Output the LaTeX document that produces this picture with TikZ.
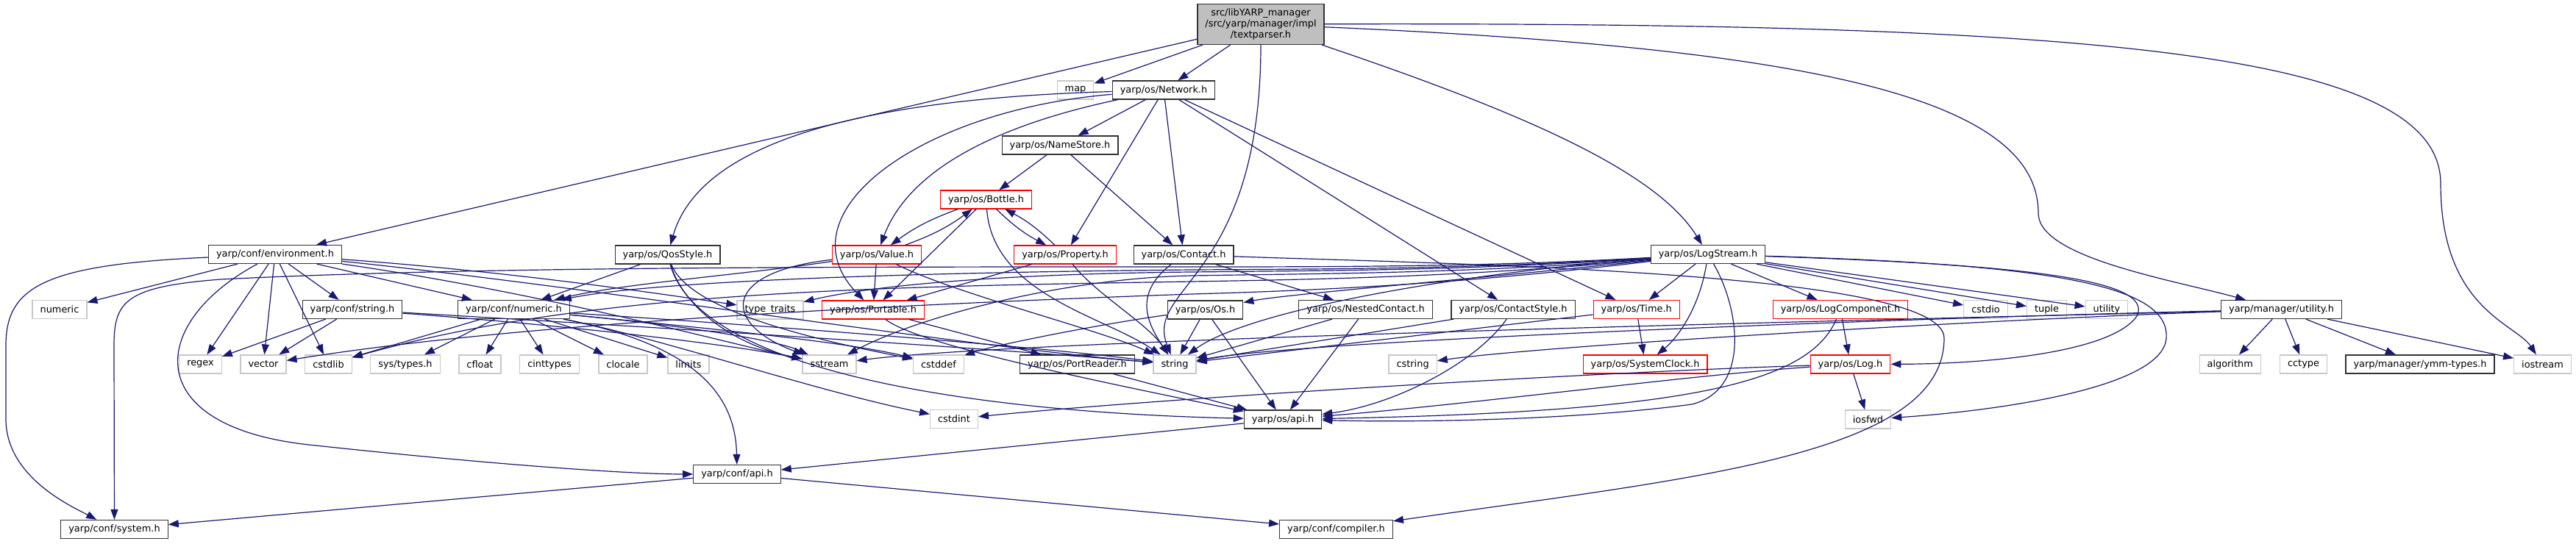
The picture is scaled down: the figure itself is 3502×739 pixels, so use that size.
\documentclass[tikz,border=0pt]{standalone}
\usepackage{fontspec}
\setsansfont{DejaVu Sans}
\usepackage{tikz}
\usetikzlibrary{arrows.meta}
\definecolor{edgeblue}{HTML}{191970}
\definecolor{rootgray}{HTML}{BFBFBF}
\definecolor{sysgray}{HTML}{C8C8C8}
\tikzset{every picture/.style={/utils/exec={\sffamily}}}
\tikzset{
  hdr/.style={draw=black!80, fill=white, line width=1.2pt, minimum height=25pt,
    inner xsep=10.5pt, inner ysep=0pt, font=\fontsize{12.9}{15}\selectfont},
  redhdr/.style={hdr, draw=red},
  syshdr/.style={hdr, draw=sysgray},
  inc/.style={draw=edgeblue, line width=1.2pt, -{Triangle[length=14pt,width=10pt]}},
}

\begin{document}
\begin{tikzpicture}[x=1pt, y=-1pt]
        \useasboundingbox (0,0) rectangle (3502,739);
        % Nodes
        \node[hdr, fill=rootgray, align=center, minimum height=55pt] (root) at (1714,33)
            {src/libYARP\_manager\\/src/yarp/manager/impl\\/textparser.h};
        \node[syshdr] (map) at (1462,122.5) {map};
        \node[hdr] (network) at (1582,122.5) {yarp/os/Network.h};
        \node[hdr] (namestore) at (1441,197.5) {yarp/os/NameStore.h};
        \node[redhdr] (bottle) at (1340.5,271.5) {yarp/os/Bottle.h};

        \node[hdr] (env) at (374,346) {yarp/conf/environment.h};
        \node[hdr] (qos) at (907.5,346.5) {yarp/os/QosStyle.h};
        \node[redhdr] (value) at (1192,346.5) {yarp/os/Value.h};
        \node[redhdr] (property) at (1448,346.5) {yarp/os/Property.h};
        \node[hdr] (contact) at (1609,346.5) {yarp/os/Contact.h};
        \node[hdr] (logstream) at (2322,346) {yarp/os/LogStream.h};

        \node[syshdr] (numeric) at (81,421) {numeric};
        \node[hdr] (confstring) at (479,421) {yarp/conf/string.h};
        \node[hdr] (confnumeric) at (698.5,421) {yarp/conf/numeric.h};
        \node[syshdr] (typetraits) at (1047,421.5) {type\_traits};
        \node[redhdr] (portable) at (1187,421.5) {yarp/os/Portable.h};
        \node[hdr] (os) at (1638.5,421.5) {yarp/os/Os.h};
        \node[hdr] (nested) at (1856.5,421) {yarp/os/NestedContact.h};
        \node[hdr] (cstyle) at (2057,421) {yarp/os/ContactStyle.h};
        \node[redhdr] (time) at (2224.7,421) {yarp/os/Time.h};
        \node[redhdr] (logcomp) at (2502,421) {yarp/os/LogComponent.h};
        \node[syshdr] (cstdio) at (2699.5,421) {cstdio};
        \node[syshdr] (tuple) at (2782.5,421) {tuple};
        \node[syshdr] (stdutility) at (2864,421) {utility};
        \node[hdr] (mutility) at (3101.5,421) {yarp/manager/utility.h};

        \node[syshdr] (regex) at (272.5,495.5) {regex};
        \node[syshdr] (vector) at (358,495.5) {vector};
        \node[syshdr] (cstdlib) at (446.5,495.5) {cstdlib};
        \node[syshdr] (systypes) at (551,495.5) {sys/types.h};
        \node[syshdr] (cfloat) at (652.5,495.5) {cfloat};
        \node[syshdr] (cinttypes) at (747,495.5) {cinttypes};
        \node[syshdr] (clocale) at (847,495.5) {clocale};
        \node[syshdr] (limits) at (936,495.5) {limits};
        \node[syshdr] (sstream) at (1127.5,495.5) {sstream};
        \node[syshdr] (cstddef) at (1276,495.5) {cstddef};
        \node[hdr] (portreader) at (1464.5,495.5) {yarp/os/PortReader.h};
        \node[syshdr] (string) at (1597,495.5) {string};
        \node[syshdr] (cstring) at (1920.6,495.5) {cstring};
        \node[redhdr] (sysclock) at (2236.6,495.5) {yarp/os/SystemClock.h};
        \node[redhdr] (log) at (2515.5,495.5) {yarp/os/Log.h};
        \node[syshdr] (algorithm) at (3031.7,495.5) {algorithm};
        \node[syshdr] (cctype) at (3131.5,495.5) {cctype};
        \node[hdr] (ymm) at (3290,495.5) {yarp/manager/ymm-types.h};
        \node[syshdr] (iostream) at (3456.5,495.5) {iostream};

        \node[syshdr] (cstdint) at (1297,570) {cstdint};
        \node[hdr] (osapi) at (1744,570.5) {yarp/os/api.h};
        \node[syshdr] (iosfwd) at (2539.5,570.5) {iosfwd};
        \node[hdr] (confapi) at (1002,645) {yarp/conf/api.h};
        \node[hdr] (system) at (155.5,720) {yarp/conf/system.h};
        \node[hdr] (compiler) at (1816.5,720) {yarp/conf/compiler.h};

        % Include edges from the file itself
        \draw[inc] (root) -- (map);
        \draw[inc] (root) -- (network);
        \draw[inc] (root) -- (env);
        \draw[inc] (root) .. controls (1714,380) and (1555,390) .. (string);
        \draw[inc] (root) .. controls (2060,150) and (2250,230) .. (logstream);
        \draw[inc] (root) .. controls (2450,65) and (2771,130) .. (2771,290)
            .. controls (2771,350) and (2950,380) .. (mutility);
        \draw[inc] (root) .. controls (2850,30) and (3318,70) .. (3318,250)
            .. controls (3318,420) and (3420,440) .. (iostream);

        % Network.h and NameStore.h
        \draw[inc] (network) -- (namestore);
        \draw[inc] (network) .. controls (1150,135) and (950,200) .. (qos);
        \draw[inc] (network) .. controls (1380,165) and (1240,220) .. (value);
        \draw[inc] (network) .. controls (1250,150) and (1060,290) .. (portable);
        \draw[inc] (network) -- (property);
        \draw[inc] (network) -- (contact);
        \draw[inc] (network) -- (cstyle);
        \draw[inc] (network) -- (time);
        \draw[inc] (namestore) -- (bottle);
        \draw[inc] (namestore) -- (contact);

        % Bottle.h, Value.h, Property.h
        \draw[inc] (bottle) to[bend right=8] (value);
        \draw[inc] (value) to[bend right=8] (bottle);
        \draw[inc] (bottle) to[bend right=8] (property);
        \draw[inc] (property) to[bend right=8] (bottle);
        \draw[inc] (bottle) -- (portable);
        \draw[inc] (bottle) .. controls (1350,400) and (1500,430) .. (string);
        \draw[inc] (value) -- (portable);
        \draw[inc] (value) .. controls (1300,400) and (1500,450) .. (string);
        \draw[inc] (value) .. controls (980,370) and (980,440) .. (sstream);
        \draw[inc] (value) .. controls (1000,375) and (850,385) .. (confnumeric);
        \draw[inc] (property) -- (portable);
        \draw[inc] (property) .. controls (1490,400) and (1560,440) .. (string);

        % Contact.h
        \draw[inc] (contact) -- (nested);
        \draw[inc] (contact) .. controls (1540,400) and (1560,440) .. (string);
        \draw[inc] (contact) .. controls (2000,360) and (2643,370) .. (2643,460)
            .. controls (2643,620) and (2300,650) .. (compiler);

        % QosStyle.h
        \draw[inc] (qos) -- (confnumeric);
        \draw[inc] (qos) .. controls (930,420) and (1000,470) .. (sstream);
        \draw[inc] (qos) .. controls (940,430) and (1150,470) .. (cstddef);
        \draw[inc] (qos) .. controls (950,500) and (1300,560) .. (osapi);

        % environment.h
        \draw[inc] (env) .. controls (60,360) and (8,390) .. (8,470) -- (8,570)
            .. controls (8,650) and (100,690) .. (system);
        \draw[inc] (env) -- (numeric);
        \draw[inc] (env) -- (regex);
        \draw[inc] (env) -- (vector);
        \draw[inc] (env) -- (cstdlib);
        \draw[inc] (env) -- (confstring);
        \draw[inc] (env) -- (confnumeric);
        \draw[inc] (env) .. controls (200,440) and (190,580) .. (420,605)
            .. controls (650,630) and (850,645) .. (confapi);
        \draw[inc] (env) .. controls (700,370) and (900,400) .. (typetraits);
        \draw[inc] (env) .. controls (800,390) and (1300,470) .. (string);
        \draw[inc] (env) .. controls (750,400) and (1000,470) .. (sstream);

        % conf/string.h and conf/numeric.h
        \draw[inc] (confstring) -- (regex);
        \draw[inc] (confstring) -- (vector);
        \draw[inc] (confstring) .. controls (800,440) and (1300,470) .. (string);
        \draw[inc] (confstring) .. controls (800,445) and (1000,470) .. (sstream);
        \draw[inc] (confnumeric) -- (cstdlib);
        \draw[inc] (confnumeric) -- (systypes);
        \draw[inc] (confnumeric) -- (cfloat);
        \draw[inc] (confnumeric) -- (cinttypes);
        \draw[inc] (confnumeric) -- (clocale);
        \draw[inc] (confnumeric) -- (limits);
        \draw[inc] (confnumeric) .. controls (900,440) and (1050,460) .. (sstream);
        \draw[inc] (confnumeric) .. controls (950,445) and (1150,465) .. (cstddef);
        \draw[inc] (confnumeric) .. controls (1000,440) and (1400,470) .. (string);
        \draw[inc] (confnumeric) .. controls (950,470) and (1000,540) .. (confapi);
        \draw[inc] (confnumeric) .. controls (900,460) and (1100,530) .. (cstdint);

        % Portable.h, PortReader.h, Os.h and friends
        \draw[inc] (portable) -- (portreader);
        \draw[inc] (portable) .. controls (1250,470) and (1500,520) .. (osapi);
        \draw[inc] (portreader) -- (osapi);
        \draw[inc] (os) -- (string);
        \draw[inc] (os) -- (osapi);
        \draw[inc] (os) .. controls (1500,440) and (1350,470) .. (cstddef);
        \draw[inc] (nested) -- (string);
        \draw[inc] (nested) -- (osapi);
        \draw[inc] (cstyle) -- (string);
        \draw[inc] (cstyle) .. controls (2010,490) and (1900,550) .. (osapi);
        \draw[inc] (time) -- (sysclock);
        \draw[inc] (time) -- (string);

        % LogStream.h, leftwards it runs under Contact.h
        \draw[inc] (logstream) .. controls (2000,380) and (1750,400) .. (os);
        \draw[inc] (logstream) .. controls (2000,370) and (1700,420) .. (string);
        \draw[inc] (logstream) .. controls (2000,372) and (1800,372) .. (1620,375)
            .. controls (1450,378) and (1250,430) .. (sstream);
        \draw[inc] (logstream) .. controls (2000,368) and (1800,368) .. (1620,370)
            .. controls (1400,372) and (1200,385) .. (typetraits);
        \draw[inc] (logstream) .. controls (2000,366) and (1800,366) .. (1620,367)
            .. controls (1300,370) and (900,380) .. (confnumeric);
        \draw[inc] (logstream) .. controls (2000,385) and (1800,395) .. (1620,400)
            .. controls (1200,415) and (700,440) .. (vector);
        \draw[inc] (logstream) .. controls (2000,376) and (1800,380) .. (1620,383)
            .. controls (1200,390) and (800,395) .. (cstdlib);
        \draw[inc] (logstream) .. controls (2000,364) and (1800,363) .. (1500,363)
            .. controls (1000,363) and (600,365) .. (300,380)
            .. controls (170,390) and (155,410) .. (155,470) -- (system);
        \draw[inc] (logstream) -- (time);
        \draw[inc] (logstream) .. controls (2310,420) and (2280,460) .. (sysclock);
        \draw[inc] (logstream) -- (logcomp);
        \draw[inc] (logstream) -- (cstdio);
        \draw[inc] (logstream) -- (tuple);
        \draw[inc] (logstream) -- (stdutility);
        \draw[inc] (logstream) .. controls (2750,360) and (2930,380) .. (2905,430)
            .. controls (2870,480) and (2700,495) .. (log);
        \draw[inc] (logstream) .. controls (2800,360) and (2950,390) .. (2945,460)
            .. controls (2940,530) and (2700,560) .. (iosfwd);
        \draw[inc] (logstream) .. controls (2365,420) and (2380,530) .. (2300,550)
            .. controls (2150,570) and (1950,575) .. (osapi);

        % manager/utility.h
        \draw[inc] (mutility) -- (algorithm);
        \draw[inc] (mutility) -- (cctype);
        \draw[inc] (mutility) -- (ymm);
        \draw[inc] (mutility) -- (iostream);
        \draw[inc] (mutility) .. controls (2700,430) and (1800,460) .. (string);
        \draw[inc] (mutility) .. controls (2700,435) and (2100,470) .. (cstring);
        \draw[inc] (mutility) .. controls (2700,432) and (1400,460) .. (sstream);

        % Log.h, LogComponent.h and the api headers
        \draw[inc] (logcomp) -- (log);
        \draw[inc] (logcomp) .. controls (2460,520) and (2300,560) .. (osapi);
        \draw[inc] (log) -- (iosfwd);
        \draw[inc] (log) .. controls (2300,510) and (2000,550) .. (osapi);
        \draw[inc] (log) .. controls (2200,505) and (1600,540) .. (cstdint);
        \draw[inc] (osapi) -- (confapi);
        \draw[inc] (confapi) -- (system);
        \draw[inc] (confapi) -- (compiler);
    \end{tikzpicture}
\end{document}
